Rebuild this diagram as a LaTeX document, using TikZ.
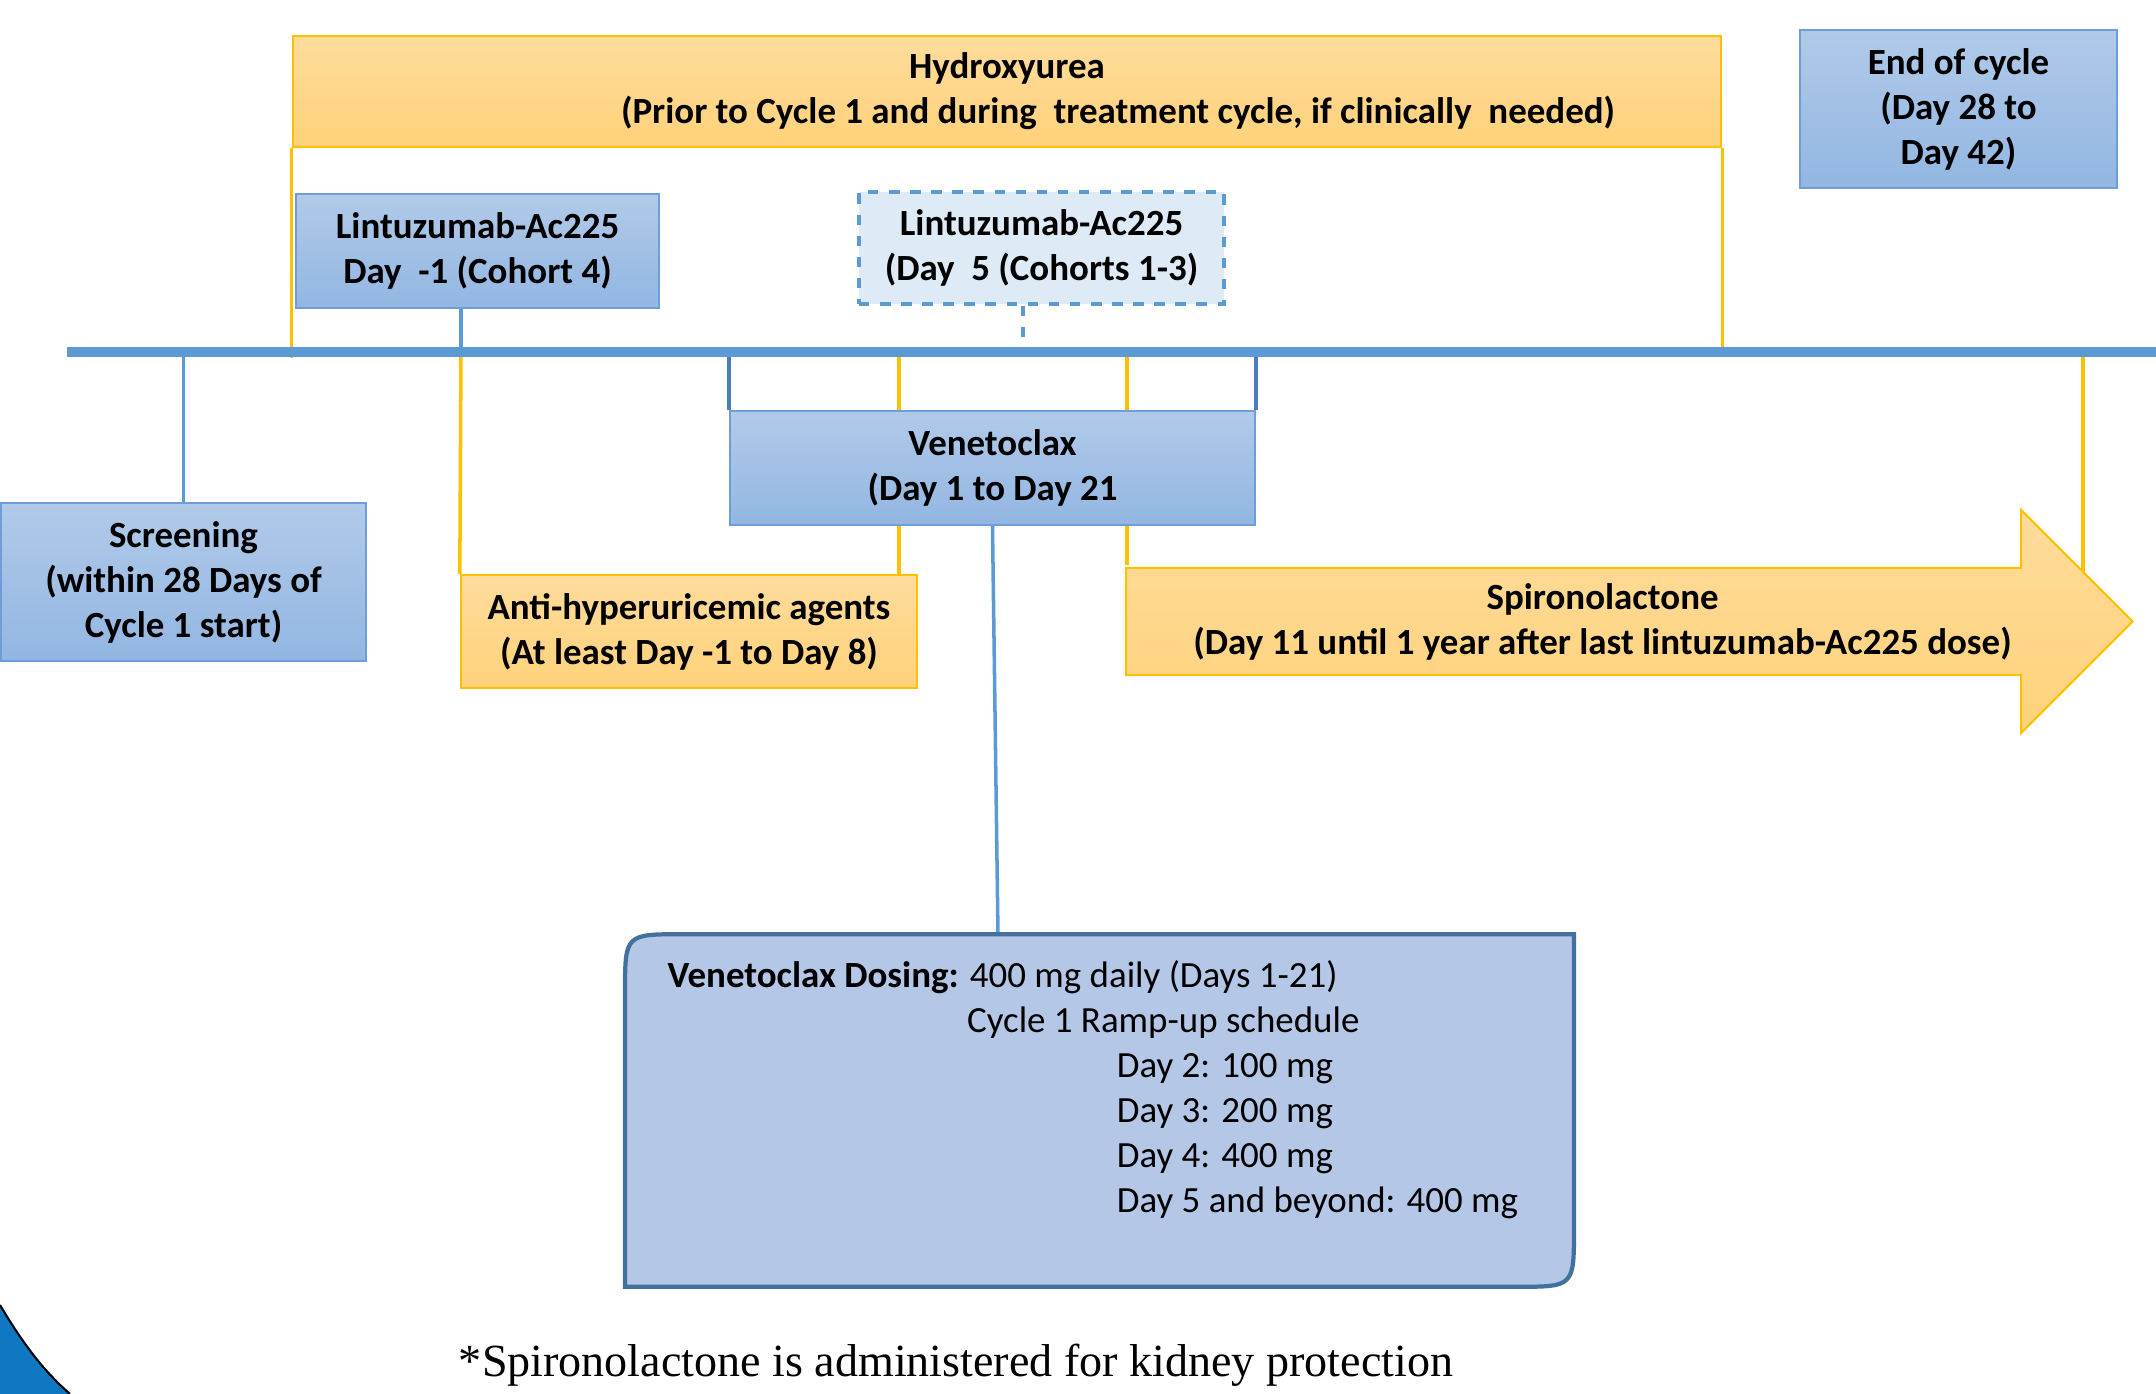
\documentclass[tikz,border=0pt]{standalone}
\usepackage{fontspec}
\setmainfont{Carlito}
\newfontfamily\notefont{Liberation Serif}
\usetikzlibrary{shapes.arrows}
\usetikzlibrary{calc}
\usetikzlibrary{backgrounds}
\definecolor{tlblue}{HTML}{5B9BD5}
\definecolor{brblue}{HTML}{4A7EBB}
\definecolor{boxtop}{HTML}{B1CAE9}
\definecolor{boxbot}{HTML}{92B6E2}
\definecolor{boxline}{HTML}{6D9EDA}
\definecolor{gold}{HTML}{FFC000}
\definecolor{ytop}{HTML}{FFDC9C}
\definecolor{ybot}{HTML}{FFD27A}
\definecolor{dashfill}{HTML}{DEEAF6}
\definecolor{dosefill}{HTML}{B4C7E7}
\definecolor{doseline}{HTML}{41719C}
\definecolor{cornerblue}{HTML}{1078C3}

\begin{document}
\begin{tikzpicture}[x=0.01cm,y=-0.01cm,
  every node/.style={align=center,inner sep=0pt,font=\fontsize{10.5}{12.8}\selectfont\bfseries},
  bluebox/.style={draw=boxline,line width=0.6pt,top color=boxtop,bottom color=boxbot},
  yellowbox/.style={draw=gold,line width=0.6pt,top color=ytop,bottom color=ybot},
  yl/.style={gold,line width=1pt},
  bl/.style={tlblue,line width=1pt}]
\useasboundingbox (0,0) rectangle (2156,1394);

% boxes above the time line
\node[yellowbox,minimum width=14.28cm,minimum height=1.11cm] (hydro) at (1007,91.5)
  {Hydroxyurea\\\hspace*{2.22cm}(Prior to Cycle 1 and during\ \ treatment cycle, if clinically\ \ needed)};
\node[bluebox,minimum width=3.17cm,minimum height=1.58cm] (endc) at (1958.5,109)
  {End of cycle\\(Day 28 to\\Day 42)};
\node[bluebox,minimum width=3.63cm,minimum height=1.14cm] (lintA) at (477.5,251)
  {Lintuzumab-Ac225\\Day\ \ -1 (Cohort 4)};
\node[draw=tlblue,dashed,line width=1pt,fill=dashfill,minimum width=3.65cm,minimum height=1.12cm] (lintB) at (1041.5,248)
  {Lintuzumab-Ac225\\(Day\ \ 5 (Cohorts 1-3)};

% boxes below the time line
\node[bluebox,minimum width=3.65cm,minimum height=1.58cm] (screen) at (183.5,582)
  {Screening\\(within 28 Days of\\Cycle 1 start)};
\node[yellowbox,minimum width=4.56cm,minimum height=1.13cm] (anti) at (689,631.5)
  {Anti-hyperuricemic agents\\(At least Day -1 to Day 8)};
\node[bluebox,minimum width=5.25cm,minimum height=1.14cm] (vene) at (992.5,468)
  {Venetoclax\\(Day 1 to Day 21};
\node[single arrow,draw=gold,line width=0.6pt,top color=ytop,bottom color=ybot,
  minimum height=10.06cm,minimum width=2.23cm,single arrow head extend=0.425cm,
  anchor=west] (spiro) at (1125,621.5)
  {Spironolactone\\(Day 11 until 1 year after last lintuzumab-Ac225 dose)};

% time line and ticks
\coordinate (tlL) at (67,352);
\coordinate (tlR) at (2156,352);
\coordinate (dm1) at (461,352);
\coordinate (d5) at (1023,352);
\coordinate (d8) at (899,352);
\coordinate (d11) at (1127,352);
\coordinate (d42) at (2083,352);
\coordinate (spiroTop) at (1127,565);
\coordinate (headTop) at (2083,573);
\coordinate (doseIn) at (998,935);
\draw[tlblue,line width=0.09cm] (tlL) -- (tlR);

\begin{scope}[on background layer]
\draw[yl] (hydro.south west) -- ++(0,210);
\draw[yl] (hydro.south east) -- ++(0,208);
\draw[bl] (screen.north) -- (screen.north |- tlL);
\draw[bl] (lintA.south -| dm1) -- (dm1);
\draw[bl,dashed] (lintB.south -| d5) -- (d5);
\draw[yl] (dm1) -- (anti.north west);
\draw[yl] (d8) -- (d8 |- anti.north);
\draw[brblue,line width=1pt] (vene.north west |- tlL) -- (vene.north west);
\draw[brblue,line width=1pt] (vene.north east |- tlL) -- (vene.north east);
\draw[yl] (d11) -- (spiroTop);
\draw[yl] (d42) -- (headTop);
\draw[bl] (vene.south) -- (doseIn);
\end{scope}

% dosing box
\node[minimum width=9.47cm,minimum height=3.51cm] (dosebox) at (1099.5,1110.5) {};
\filldraw[fill=dosefill,draw=doseline,line width=1.2pt] (dosebox.south west)
  -- ($(dosebox.north west)+(0,58)$) .. controls (dosebox.north west) .. ($(dosebox.north west)+(58,0)$)
  -- (dosebox.north east) -- ($(dosebox.south east)+(0,-58)$) .. controls (dosebox.south east) .. ($(dosebox.south east)+(-58,0)$)
  -- cycle;
\node[anchor=north west,align=left,font=\fontsize{10.5}{12.8}\selectfont] (dosetxt) at (667,960)
  {\textbf{Venetoclax Dosing:} 400 mg daily (Days 1-21)\\
   \hphantom{\textbf{Venetoclax Dosing:}\ }Cycle 1 Ramp-up schedule\\
   \hspace*{4.49cm}Day 2: 100 mg\\
   \hspace*{4.49cm}Day 3: 200 mg\\
   \hspace*{4.49cm}Day 4: 400 mg\\
   \hspace*{4.49cm}Day 5 and beyond: 400 mg};

\node[font=\notefont\fontsize{13.1}{15}\selectfont] (note) at (956,1365)
  {*Spironolactone is administered for kidney protection};

% corner of the slide
\fill[cornerblue] (0,1305) .. controls (25,1347) and (45,1372) .. (70,1394) -- (0,1394) -- cycle;
\draw[black,line width=0.6pt] (0,1305) .. controls (25,1347) and (45,1372) .. (70,1394);
\end{tikzpicture}
\end{document}
